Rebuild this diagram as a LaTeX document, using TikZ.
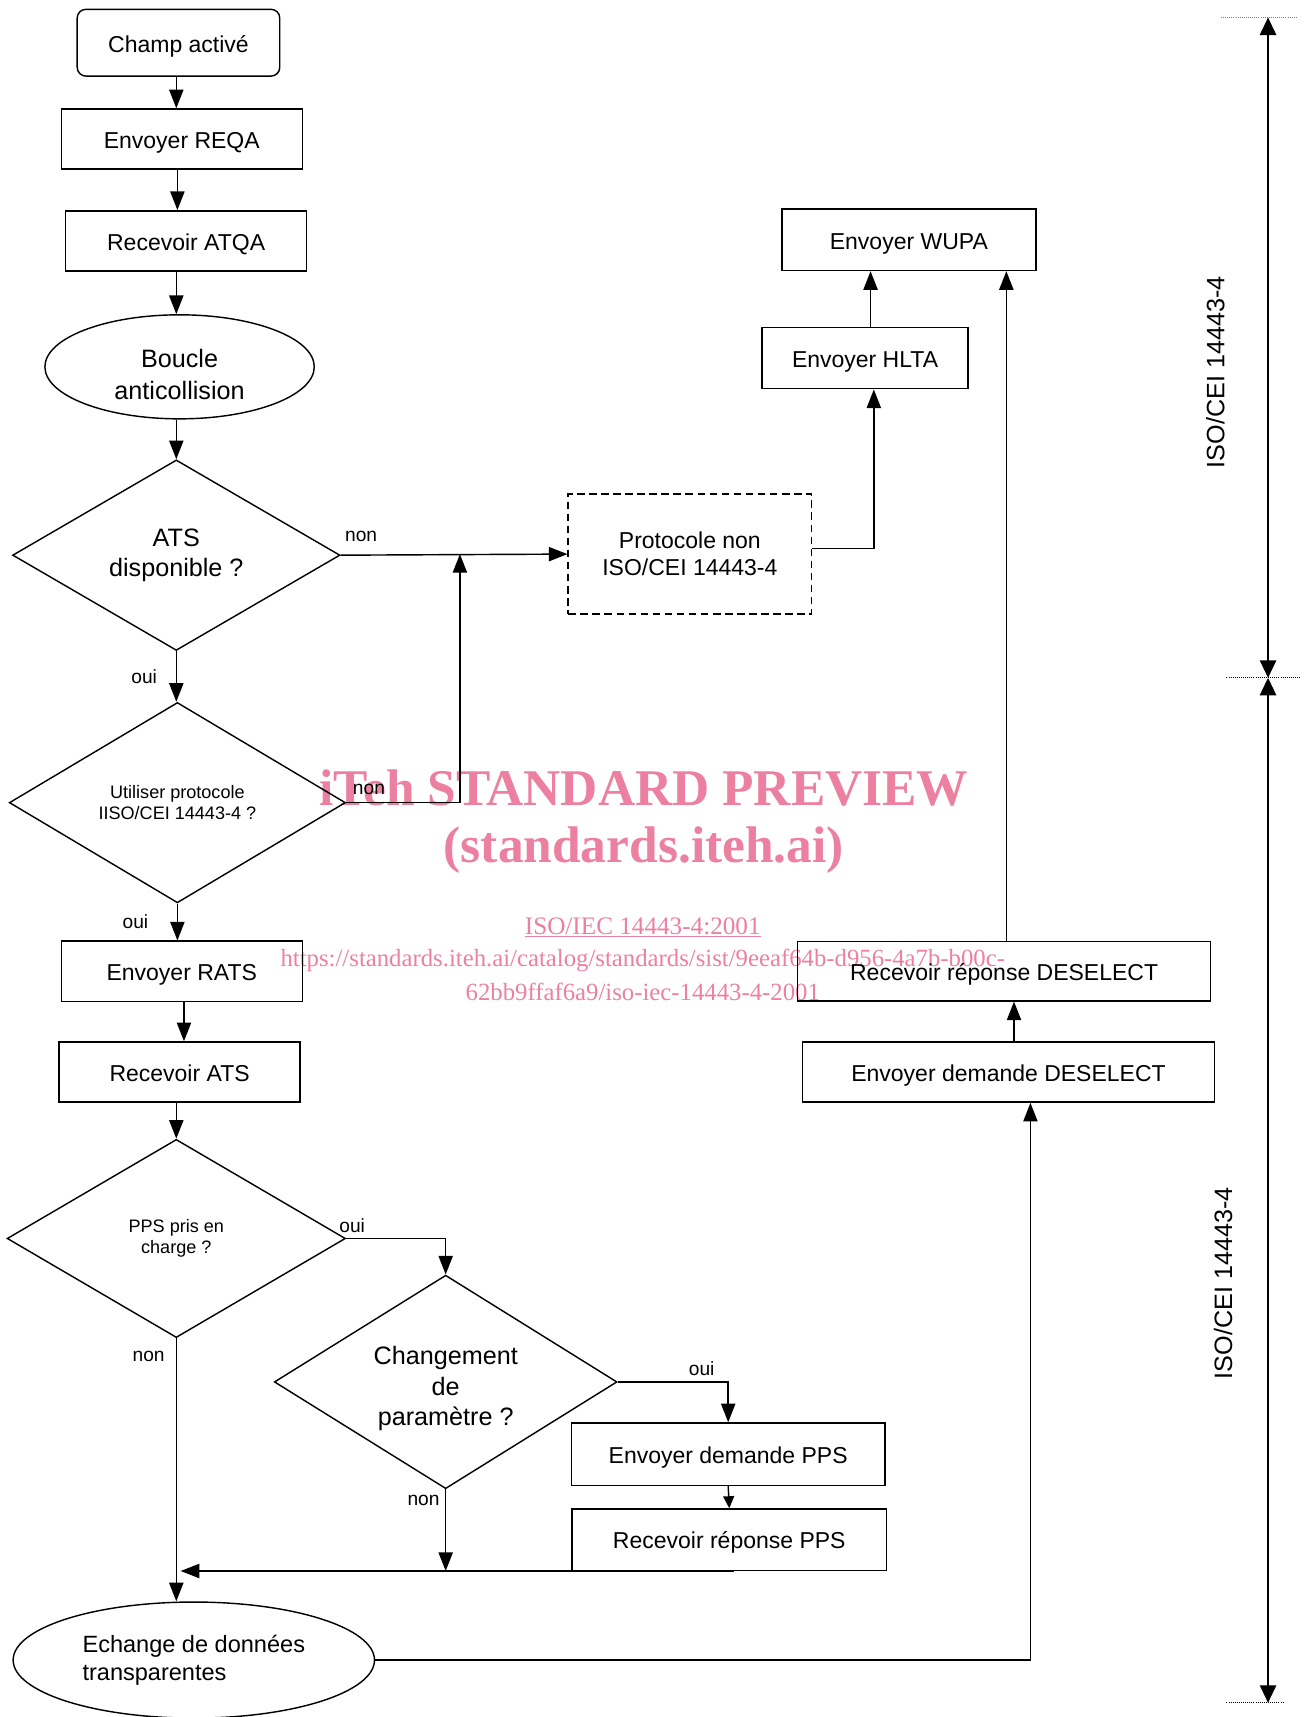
\documentclass[tikz,border=0pt]{standalone}
\usepackage{fontspec}
\setmainfont{Liberation Sans}
\newfontfamily\wmfont{Liberation Serif}
\usetikzlibrary{positioning, shapes.geometric, arrows.meta}
\definecolor{wmpink}{RGB}{236,128,160}

\begin{document}
\begin{tikzpicture}[
  x=1pt, y=-1pt, line width=1.3pt,
  every node/.style={align=center, inner sep=0pt},
  box/.style={draw, rectangle, minimum height=55pt, text height=21pt, text depth=4pt, font=\fontsize{21}{25}\selectfont},
  oval/.style={draw, ellipse, font=\fontsize{23}{29}\selectfont},
  question/.style={draw, diamond, shape aspect=1.65, font=\fontsize{23}{28}\selectfont},
  smallquestion/.style={draw, diamond, shape aspect=1.65, font=\fontsize{16.5}{19.5}\selectfont},
  lbl/.style={font=\fontsize{17.5}{20}\selectfont},
  arr/.style={-{Triangle[length=17pt,width=13pt]}},
  tinyarr/.style={-{Triangle[length=11pt,width=10pt]}},
  span/.style={{Triangle[length=16pt,width=15pt]}-{Triangle[length=16pt,width=15pt]}},
  tick/.style={densely dotted, line width=0.9pt},
  wm/.style={text=wmpink, font=\wmfont\fontsize{22.6}{26}\selectfont}
]
\useasboundingbox (0,0) rectangle (1192,1568);

\node[wm, font=\wmfont\bfseries\fontsize{47}{52}\selectfont] (wmtitle) at (588,720) {iTeh STANDARD PREVIEW};
\node[wm, font=\wmfont\bfseries\fontsize{47}{52}\selectfont] (wmsite) at (588,776) {(standards.iteh.ai)};
\node[wm, font=\wmfont\fontsize{23}{26}\selectfont] (wmref) at (587,847) {\underline{ISO/IEC 14443-4:2001}};
\node[wm] (wmurl) at (587,877) {https://standards.iteh.ai/catalog/standards/sist/9eeaf64b-d956-4a7b-b00c-};
\node[wm] (wmurlb) at (587,906) {62bb9ffaf6a9/iso-iec-14443-4-2001};

\node[box, rounded corners=8pt, minimum width=185pt, minimum height=61pt] (champ) at (163,39) {Champ activé};
\node[box, minimum width=220pt] (reqa) at (166,127) {Envoyer REQA};
\node[box, minimum width=220pt] (atqa) at (170,220) {Recevoir ATQA};
\node[oval, minimum width=246pt, minimum height=95pt] (boucle) at (164,335) {\rule{0pt}{31pt}Boucle\\anticollision};
\node[question, minimum width=299pt, minimum height=174pt] (ats) at (161,507) {ATS\\disponible ?};
\node[draw, dash pattern=on 7pt off 4pt, line width=1.6pt, minimum width=222pt, minimum height=110pt, font=\fontsize{21}{25}\selectfont] (proto) at (630,506) {Protocole non\\ISO/CEI 14443-4};
\node[smallquestion, minimum width=307pt, minimum height=183pt] (util) at (162,733) {Utiliser protocole\\IISO/CEI 14443-4 ?};
\node[box, minimum width=220pt] (rats) at (166,887) {Envoyer RATS};
\node[box, minimum width=220pt] (recats) at (164,979) {Recevoir ATS};
\node[smallquestion, minimum width=309pt, minimum height=181pt] (pps) at (161,1131) {PPS pris en\\charge ?};
\node[question, minimum width=313pt, minimum height=195pt] (chg) at (407,1262) {\rule{0pt}{29pt}Changement\\de\\paramètre ?};
\node[box, minimum width=286pt, minimum height=57pt] (ppsreq) at (665,1328) {Envoyer demande PPS};
\node[box, minimum width=287pt, minimum height=56pt] (ppsrep) at (666,1406) {Recevoir réponse PPS};
\node[oval, align=left, minimum width=330pt, minimum height=106pt, font=\fontsize{21.5}{26}\selectfont] (echange) at (177,1516) {Echange de données\\transparentes};

\node[box, minimum width=232pt, minimum height=56pt] (wupa) at (830,219) {Envoyer WUPA};
\node[box, minimum width=188pt, minimum height=56pt] (hlta) at (790,327) {Envoyer HLTA};
\node[box, minimum width=377pt, minimum height=54pt] (desrep) at (917,887) {Recevoir réponse DESELECT};
\node[box, minimum width=376pt, minimum height=55pt] (desreq) at (921,979) {Envoyer demande DESELECT};

\coordinate (axe) at (161,0);
\coordinate (joinnon) at (420,506);
\coordinate (spantop) at (1158,16);
\coordinate (spanmid) at (1158,619);
\coordinate (spanbot) at (1158,1555);

\draw[arr] (champ.south -| axe) -- (reqa.north -| axe);
\draw[arr] ([xshift=1pt]reqa.south -| axe) -- ([xshift=1pt]atqa.north -| axe);
\draw[arr] (atqa.south -| axe) -- (boucle.north -| axe);
\draw[arr] (boucle.south -| axe) -- (ats.north);
\draw[arr] (ats.east) -- node[lbl, pos=0.09, above=12pt] (atsnon) {non} (proto.west);
\draw[arr] (ats.south) -- node[lbl, left=17pt] (atsoui) {oui} (ats.south |- util.north);
\draw[arr] (util.east) -| node[lbl, pos=0.1, above=7pt] (utilnon) {non} (joinnon);
\draw[arr] (util.south) -- node[lbl, left=26pt] (utiloui) {oui} (util.south |- rats.north);
\draw[arr] ([xshift=2pt]rats.south) -- ([xshift=2pt]rats.south |- recats.north);
\draw[arr] (recats.south -| axe) -- (pps.north);
\draw[arr] (pps.east) -| node[lbl, pos=0.03, above=5pt] (ppsoui) {oui} (chg.north);
\draw[arr] (pps.south) -- node[lbl, pos=0.07, left=10pt] (ppsnon) {non} (pps.south |- echange.north);
\draw[arr] (chg.east) -| node[lbl, pos=0.38, above=5pt] (chgoui) {oui} (ppsreq.north);
\draw[tinyarr] (ppsreq.south) -- (ppsrep.north);
\draw[arr] (chg.south) -- node[lbl, pos=0.13, left=5pt] (chgnon) {non} (chg.south |- ppsrep.south);
\draw[arr] ([xshift=4pt]ppsrep.south) -- ([xshift=4pt]ppsrep.south -| pps.south);
\draw[arr] (echange.east) -| ([xshift=20pt]desreq.south);
\draw[arr] ([xshift=5pt]desreq.north) -- ([xshift=5pt]desreq.north |- desrep.south);
\draw[arr] ([xshift=2pt]desrep.north) -- ([xshift=2pt]desrep.north |- wupa.south);
\draw[arr] ([xshift=5pt]hlta.north) -- ([xshift=5pt]hlta.north |- wupa.south);
\draw[arr] ([yshift=5pt]proto.east) -| ([xshift=8pt]hlta.south);

\draw[span] (spantop) -- (spanmid);
\draw[span] (spanmid) -- (spanbot);
\draw[tick, gray] ([xshift=-43pt]spantop) -- ([xshift=27pt]spantop);
\draw[tick] ([xshift=-38pt]spanmid) -- ([xshift=30pt]spanmid);
\draw[tick] ([xshift=-38pt]spanbot) -- ([xshift=14pt]spanbot);
\node[rotate=90, font=\fontsize{23}{27}\selectfont] (isohaut) at (1110,340) {ISO/CEI 14443-4};
\node[rotate=90, font=\fontsize{23}{27}\selectfont] (isobas) at (1117,1172) {ISO/CEI 14443-4};
\end{tikzpicture}
\end{document}
